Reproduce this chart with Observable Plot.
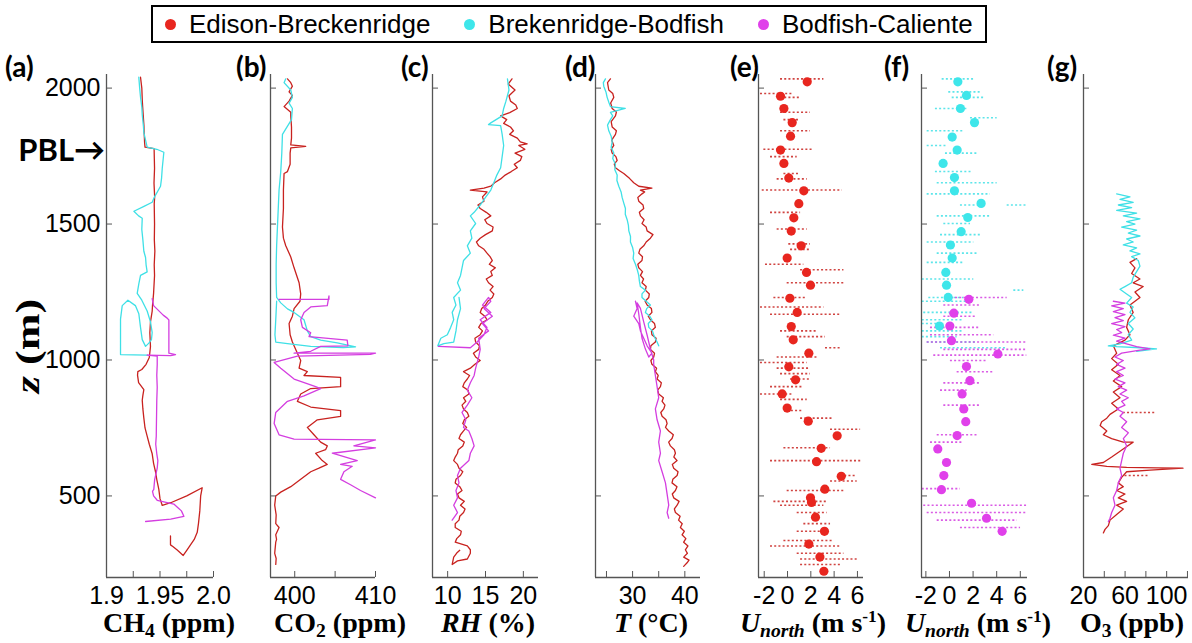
<!DOCTYPE html>
<html><head><meta charset="utf-8">
<script src="https://cdn.jsdelivr.net/npm/d3@7"></script>
<script src="https://cdn.jsdelivr.net/npm/@observablehq/plot@0.6"></script>
<style>
body{margin:0;background:#fff;}
#wrap{position:relative;width:1192px;height:643px;overflow:hidden;background:#fff;}
.letter{position:absolute;top:50px;font-family:Lato,"Open Sans",sans-serif;font-weight:bold;font-size:28px;line-height:32px;color:#000;}
.title{position:absolute;top:611px;font-family:"Liberation Serif","Times New Roman",serif;font-weight:bold;font-size:28px;line-height:24px;white-space:nowrap;transform:translateX(-50%);color:#000;}
.title sub{font-size:70%;vertical-align:-0.28em;line-height:0;}
.title sup{font-size:62%;vertical-align:0.55em;line-height:0;}
#legend{position:absolute;left:151px;top:5px;height:34px;border:2px solid #000;display:flex;align-items:center;padding:0 12px 0 12px;font-family:"Liberation Sans",Arial,sans-serif;font-size:26px;line-height:30px;color:#000;white-space:nowrap;box-sizing:content-box;}
#legend .it{display:flex;align-items:center;margin-right:34px;}
#legend .it:last-child{margin-right:0;}
#legend .dot{width:11px;height:11px;border-radius:50%;margin-right:13px;}
#zlab{position:absolute;left:28px;top:346px;font-family:"Liberation Serif","Times New Roman",serif;font-weight:bold;font-size:34px;line-height:36px;white-space:nowrap;transform:translate(-50%,-50%) rotate(-90deg) scaleX(1.3);}
#pbl{position:absolute;right:1087px;top:130px;font-family:Lato,"Open Sans",sans-serif;font-weight:bold;font-size:31px;line-height:38px;white-space:nowrap;}
</style></head>
<body><div id="wrap"></div>
<script>
// ---------- shared altitude axis ----------
const Z_DOMAIN = [200, 2050];
const Z_TICKS = [500, 1000, 1500, 2000];

// ---------- series names ----------
const SERIES = ["Edison-Breckenridge", "Brekenridge-Bodfish", "Bodfish-Caliente"];

// ---------- (a) CH4 (ppm) : [value, z] ----------
const CH4_DOMAIN = [1.9, 2.0];
const CH4_TICKS = [1.9, 1.925, 1.95, 1.975, 2.0];
const CH4_LABEL_VALUES = [1.9, 1.95, 2.0];
const CH4_LABEL_TEXT = ["1.9", "1.95", "2.0"];
const CH4_EB = [[1.9318,2040],[1.9330,2000],[1.9335,1950],[1.9343,1902],[1.9350,1860],[1.9352,1836],[1.9356,1800],[1.9360,1783],[1.9445,1777],[1.9447,1740],[1.9449,1705],[1.9444,1650],[1.9450,1600],[1.9446,1574],[1.9449,1500],[1.9447,1442],[1.9452,1400],[1.9446,1350],[1.9449,1311],[1.9442,1260],[1.9440,1245],[1.9430,1200],[1.9427,1180],[1.9411,1140],[1.9405,1100],[1.9411,1049],[1.9400,1009],[1.9370,984],[1.9330,965],[1.9293,957],[1.9290,944],[1.9300,917],[1.9349,891],[1.9340,870],[1.9334,852],[1.9340,820],[1.9349,786],[1.9360,750],[1.9380,720],[1.9400,690],[1.9427,655],[1.9440,620],[1.9458,589],[1.9470,560],[1.9489,524],[1.9500,490],[1.9521,465],[1.9600,475],[1.9750,500],[1.9894,530],[1.9880,500],[1.9872,445],[1.9860,400],[1.9848,366],[1.9820,340],[1.9785,320],[1.9750,300],[1.9717,281],[1.9661,301],[1.9620,314],[1.9598,320],[1.9598,353]];
const CH4_BB = [[1.9302,2040],[1.9310,2000],[1.9318,1967],[1.9330,1930],[1.9334,1902],[1.9345,1860],[1.9349,1836],[1.9380,1783],[1.9470,1775],[1.9536,1764],[1.9530,1740],[1.9521,1705],[1.9515,1670],[1.9505,1639],[1.9449,1600],[1.9427,1580],[1.9350,1565],[1.9256,1547],[1.9300,1530],[1.9334,1521],[1.9330,1480],[1.9340,1442],[1.9349,1400],[1.9365,1377],[1.9370,1350],[1.9380,1324],[1.9318,1311],[1.9302,1280],[1.9287,1245],[1.9330,1220],[1.9380,1180],[1.9411,1140],[1.9427,1101],[1.9420,1075],[1.9396,1062],[1.9365,1050],[1.9334,1075],[1.9318,1120],[1.9302,1170],[1.9270,1200],[1.9200,1220],[1.9147,1200],[1.9131,1150],[1.9131,1100],[1.9131,1050],[1.9131,1020],[1.9380,1018]];
const CH4_BC = [[1.9427,1226],[1.9440,1200],[1.9530,1165],[1.9567,1154],[1.9583,1147],[1.9583,1100],[1.9583,1050],[1.9583,1025],[1.9645,1020],[1.9600,1016],[1.9380,1018],[1.9474,1014],[1.9474,983],[1.9470,944],[1.9474,900],[1.9470,852],[1.9468,800],[1.9466,750],[1.9465,720],[1.9460,690],[1.9470,655],[1.9480,630],[1.9474,602],[1.9450,560],[1.9442,524],[1.9430,517],[1.9440,500],[1.9474,484],[1.9629,470],[1.9700,445],[1.9723,425],[1.9600,415],[1.9365,406]];

// ---------- (b) CO2 (ppm) ----------
const CO2_DOMAIN = [397, 410];
const CO2_TICKS = [400, 405, 410];
const CO2_LABEL_VALUES = [400, 410];
const CO2_LABEL_TEXT = ["400", "410"];
const CO2_EB = [[399.10,2034],[399.51,2020],[399.71,2007],[399.30,1986],[399.71,1973],[399.30,1952],[398.68,1932],[399.51,1911],[399.51,1898],[399.60,1857],[399.60,1816],[399.51,1791],[401.36,1786],[399.51,1780],[399.43,1761],[399.43,1720],[399.10,1693],[398.68,1686],[398.60,1625],[398.60,1557],[398.48,1489],[398.60,1448],[398.89,1420],[399.51,1379],[399.92,1339],[400.54,1284],[400.74,1243],[400.65,1216],[399.92,1189],[399.71,1161],[399.30,1134],[399.43,1093],[399.71,1066],[400.33,1025],[400.74,998],[400.54,970],[401.56,957],[401.15,943],[405.68,936],[405.68,902],[401.98,895],[400.74,875],[400.33,848],[401.98,827],[405.68,814],[405.68,793],[402.80,780],[401.56,752],[402.38,725],[403.21,698],[404.03,684],[403.82,670],[402.59,657],[403.41,630],[404.03,616],[403.00,602],[401.98,589],[400.74,561],[399.51,534],[398.27,514],[397.65,500],[397.52,466],[397.70,430],[397.65,398],[398.06,384],[397.65,357],[397.75,340],[397.65,330],[397.52,289],[397.70,270],[397.65,248]];
const CO2_BB = [[398.89,2034],[398.68,2020],[399.51,1993],[399.71,1966],[399.30,1945],[399.71,1925],[399.60,1884],[398.48,1830],[398.40,1761],[398.27,1693],[398.06,1625],[397.96,1557],[397.86,1489],[397.76,1420],[397.70,1352],[397.70,1284],[397.76,1230],[398.27,1210],[399.10,1188],[399.92,1175],[401.15,1148],[401.56,1107],[401.98,1086],[403.21,1073],[405.27,1063],[407.53,1048],[406.00,1046],[401.98,1050],[399.10,1060],[397.65,1066],[397.55,1093],[397.65,1148],[397.76,1216]];
const CO2_BC = [[398.06,1223],[404.24,1223],[404.24,1236],[404.03,1200],[401.98,1195],[401.15,1175],[400.74,1148],[400.95,1120],[401.98,1100],[401.77,1086],[406.50,1073],[406.58,1052],[403.21,1050],[401.98,1032],[399.92,1025],[410.00,1025],[409.38,1021],[400.33,1014],[397.45,991],[398.27,970],[399.92,930],[402.59,902],[403.21,895],[401.15,868],[399.10,848],[397.65,807],[397.45,766],[398.06,725],[399.92,709],[410.00,706],[407.32,684],[410.00,677],[404.65,657],[407.74,630],[405.68,616],[407.12,609],[406.09,589],[405.68,561],[406.91,541],[408.15,520],[410.00,493]];

// ---------- (c) RH (%) ----------
const RH_DOMAIN = [8, 22];
const RH_TICKS = [10, 15, 20];
const RH_LABEL_VALUES = [10, 15, 20];
const RH_LABEL_TEXT = ["10", "15", "20"];
const RH_EB = [[18.5,2034],[18.0,2015],[18.9,1993],[18.1,1972],[18.3,1952],[19.0,1938],[19.2,1925],[18.2,1910],[17.0,1898],[17.8,1884],[17.4,1870],[18.3,1857],[18.7,1843],[18.2,1830],[19.2,1816],[19.6,1802],[20.5,1795],[19.4,1789],[20.2,1775],[18.9,1761],[19.8,1748],[19.6,1734],[18.8,1720],[19.2,1707],[18.4,1693],[17.6,1680],[17.0,1666],[16.2,1652],[15.7,1639],[14.8,1632],[13.0,1625],[15.2,1618],[14.6,1600],[14.8,1584],[14.0,1570],[14.3,1557],[15.1,1543],[15.7,1530],[14.9,1516],[15.2,1502],[16.0,1489],[15.9,1475],[15.0,1461],[14.3,1448],[13.8,1434],[14.1,1420],[14.8,1407],[15.2,1393],[15.6,1380],[15.9,1366],[15.5,1352],[16.3,1339],[15.7,1325],[15.9,1311],[15.1,1298],[15.4,1284],[16.0,1270],[15.6,1257],[16.1,1243],[15.9,1230],[15.3,1216],[15.0,1202],[14.5,1189],[14.3,1175],[14.9,1161],[15.2,1148],[14.4,1134],[14.1,1120],[14.6,1107],[14.3,1093],[13.6,1080],[13.7,1066],[14.2,1052],[14.1,1039],[13.4,1025],[13.7,1011],[14.3,998],[13.6,984],[13.0,970],[12.1,957],[12.9,943],[12.6,930],[12.2,916],[12.0,902],[12.7,889],[12.8,875],[12.1,861],[12.4,848],[11.9,834],[12.1,820],[12.6,807],[12.8,793],[12.2,780],[12.0,766],[12.5,752],[12.1,739],[11.7,725],[11.5,711],[12.2,698],[12.0,684],[11.4,670],[11.3,657],[11.0,643],[10.8,630],[11.3,616],[11.5,602],[12.0,589],[11.7,575],[11.1,561],[11.0,548],[11.6,534],[11.9,520],[11.3,507],[11.5,493],[12.2,480],[11.7,466],[12.3,452],[12.1,439],[11.6,425],[11.5,411],[11.0,398],[11.0,384],[11.8,370],[11.7,357],[11.2,343],[11.0,330],[12.6,316],[13.0,302],[13.0,289],[12.6,268],[11.3,261],[10.6,248],[10.8,275],[11.2,290],[11.6,300]];
const RH_BB = [[17.9,2034],[18.1,1993],[17.7,1952],[17.4,1925],[17.2,1898],[15.7,1872],[15.4,1866],[17.0,1862],[17.2,1830],[17.4,1789],[17.2,1748],[17.0,1707],[16.5,1680],[16.1,1652],[15.7,1625],[15.0,1598],[14.3,1570],[13.5,1543],[13.0,1530],[13.7,1502],[13.0,1475],[13.2,1448],[12.6,1420],[13.0,1393],[12.1,1366],[11.9,1339],[11.7,1311],[11.3,1284],[11.7,1257],[10.8,1230],[11.1,1202],[10.6,1175],[10.8,1148],[10.4,1120],[9.96,1093],[9.1,1080],[8.7,1052],[9.5,1060],[10.8,1066],[11.1,1107],[11.3,1148],[11.7,1189],[11.5,1230]];
const RH_BC = [[8.8,1050],[13.0,1045],[13.9,1066],[14.8,1093],[15.2,1120],[14.3,1148],[15.7,1175],[14.6,1202],[15.4,1230],[15.7,1216],[14.8,1189],[15.9,1161],[14.6,1134],[15.4,1107],[14.1,1080],[14.3,1039],[14.1,1011],[13.7,970],[13.5,943],[13.0,916],[12.6,889],[13.2,861],[12.6,834],[11.9,807],[12.4,780],[12.1,752],[12.8,739],[13.2,711],[13.5,684],[13.0,657],[12.8,630],[11.7,602],[11.3,575],[11.5,548],[11.1,520],[11.3,493],[10.8,466],[11.3,439],[10.6,411]];

// ---------- (d) T (°C) ----------
const T_DOMAIN = [22.9, 43];
const T_TICKS = [25, 30, 35, 40];
const T_LABEL_VALUES = [30, 40];
const T_LABEL_TEXT = ["30", "40"];
const T_EB = [[25.76,2034],[25.2,2020],[25.44,1993],[26.2,1980],[26.40,1966],[25.8,1945],[26.09,1925],[26.9,1912],[26.72,1898],[25.9,1877],[26.09,1857],[26.9,1843],[26.72,1830],[26.0,1809],[26.40,1789],[25.9,1775],[26.09,1761],[26.8,1748],[27.05,1734],[26.5,1720],[26.72,1707],[27.5,1696],[28.31,1686],[29.4,1668],[30.22,1652],[31.18,1639],[33.7,1632],[31.5,1625],[32.3,1618],[31.8,1611],[31.0,1598],[31.18,1584],[32.0,1570],[32.13,1557],[31.3,1543],[31.50,1530],[32.2,1516],[31.8,1502],[32.6,1489],[32.78,1475],[33.9,1461],[33.41,1448],[32.6,1434],[32.13,1420],[31.4,1407],[31.18,1393],[31.9,1380],[31.8,1366],[31.0,1352],[31.18,1339],[31.9,1325],[31.50,1311],[32.1,1298],[31.8,1284],[32.6,1270],[32.45,1257],[33.2,1243],[33.1,1230],[32.4,1216],[32.78,1202],[33.6,1189],[33.7,1175],[33.0,1161],[33.41,1148],[34.2,1134],[34.36,1120],[33.6,1107],[33.7,1093],[34.5,1080],[34.36,1066],[33.5,1052],[33.41,1039],[34.2,1025],[34.04,1011],[33.5,998],[33.7,984],[34.6,970],[34.36,957],[34.9,943],[34.69,930],[35.5,916],[35.33,902],[34.8,889],[35.0,875],[35.9,861],[35.65,848],[36.2,834],[35.96,820],[35.4,807],[35.65,793],[36.4,780],[36.61,766],[36.3,752],[36.92,739],[37.8,725],[37.55,711],[36.9,698],[37.24,684],[38.0,670],[38.2,657],[37.9,643],[38.52,630],[37.6,616],[37.87,602],[38.7,589],[38.52,575],[37.7,561],[37.55,548],[38.5,534],[38.2,520],[37.6,507],[37.87,493],[38.9,480],[38.52,466],[38.0,452],[38.2,439],[39.1,425],[38.8,411],[39.5,398],[39.15,384],[39.9,370],[39.47,357],[40.2,343],[39.78,330],[40.6,316],[40.1,302],[40.5,289],[39.78,275],[40.8,264],[40.43,254],[39.78,241]];
const T_BB = [[24.81,2034],[24.4,2020],[24.48,2007],[24.9,1986],[25.13,1966],[25.5,1945],[25.76,1932],[28.6,1925],[25.76,1911],[26.2,1898],[25.76,1884],[25.2,1864],[25.44,1843],[25.9,1823],[26.09,1802],[25.9,1782],[26.40,1761],[26.2,1741],[26.72,1720],[26.6,1700],[27.05,1680],[27.0,1660],[27.36,1639],[27.8,1618],[28.0,1598],[28.3,1578],[28.63,1557],[28.6,1536],[28.96,1516],[29.2,1495],[29.28,1475],[29.6,1454],[29.59,1434],[30.0,1414],[30.22,1393],[30.1,1373],[30.55,1352],[30.9,1332],[31.18,1311],[31.3,1290],[31.50,1270],[32.45,1257],[31.8,1243],[31.8,1230],[32.6,1216],[33.41,1202],[32.7,1189],[32.45,1175],[33.3,1161],[33.7,1148],[33.0,1134],[33.1,1120],[33.8,1107],[34.04,1093],[34.3,1080],[34.69,1066],[35.0,1052]];
const T_BC = [[30.55,1216],[30.87,1189],[30.22,1161],[31.18,1134],[31.50,1107],[32.13,1080],[32.78,1052],[33.7,1025],[33.1,1011],[32.45,1040],[31.8,1080],[31.5,1120],[31.18,1170],[30.87,1210],[31.5,1190],[32.13,1140],[32.8,1090],[33.41,1040],[34.04,1000],[34.04,984],[34.36,943],[34.69,902],[35.0,861],[34.36,820],[34.69,780],[35.33,739],[35.0,698],[35.33,657],[35.0,630],[35.65,589],[36.29,548],[36.61,507],[36.92,466],[36.61,439],[36.92,418]];

// ---------- (e) U_north (m/s), Edison-Breckenridge ----------
const U_DOMAIN_E = [-2.49, 6.52];
const U_DOMAIN_F = [-2.37, 6.61];
const U_TICKS = [-2, 0, 2, 4, 6];
const U_LABEL_VALUES = [-2, 0, 2, 4, 6];
const U_LABEL_TEXT = ["-2", "0", "2", "4", "6"];
// mean points [value, z]
const UE_EB_MEAN = [[1.69,2023],[-0.60,1970],[-0.31,1925],[0.40,1873],[0.26,1823],[-0.60,1772],[-0.31,1723],[0.11,1669],[1.40,1622],[0.97,1575],[0.54,1523],[0.32,1474],[1.17,1420],[-0.03,1375],[1.63,1322],[1.97,1275],[0.20,1227],[0.83,1175],[0.32,1123],[0.49,1074],[1.83,1025],[0.11,975],[0.69,927],[-0.46,875],[-0.03,823],[1.78,775],[4.26,721],[2.89,675],[2.49,626],[4.61,572],[3.20,525],[1.97,493],[2.06,476],[2.40,422],[3.17,370],[1.83,323],[2.78,275],[3.12,223]];
// raw samples as spans [z, from, to]
const UE_EB_RAW = [[2034,-0.60,3.12],[1980,-2.32,0.54],[1966,-0.60,1.12],[1911,-0.60,1.97],[1884,-0.31,1.12],[1843,-0.60,1.97],[1775,-2.03,2.26],[1748,-1.46,0.83],[1686,-0.31,1.12],[1666,-0.89,1.69],[1625,-2.17,4.70],[1543,-1.46,1.12],[1482,-0.89,1.69],[1427,0.11,1.97],[1407,0.26,1.97],[1352,-1.89,1.40],[1332,1.12,4.84],[1284,-0.03,4.84],[1230,-1.17,1.69],[1195,-2.32,3.12],[1168,-1.46,4.55],[1107,-0.60,2.55],[1086,-0.03,3.26],[1045,3.26,4.55],[1011,-0.89,2.55],[991,-2.32,1.69],[970,-0.89,1.97],[950,-0.60,1.97],[930,0.26,1.97],[902,-1.46,1.40],[875,-2.32,0.54],[855,-0.60,1.69],[814,-0.03,1.40],[786,1.12,3.98],[745,3.69,6.27],[677,-0.31,3.69],[630,-1.46,6.40],[575,4.55,5.98],[555,3.69,5.98],[520,-0.03,4.84],[480,-1.17,3.40],[466,-0.60,3.12],[439,0.83,3.40],[398,1.40,3.69],[370,0.83,3.69],[336,-0.31,3.98],[316,-1.46,4.55],[289,0.83,4.84],[268,1.12,5.98],[248,1.12,4.55]];

// ---------- (f) U_north, Brekenridge-Bodfish and Bodfish-Caliente ----------
const UF_BB_MEAN = [[0.71,2023],[1.44,1973],[0.93,1925],[2.12,1873],[0.23,1820],[0.65,1772],[-0.54,1723],[0.42,1671],[0.42,1622],[2.68,1576],[1.55,1524],[0.99,1472],[0.08,1423],[0.23,1375],[-0.31,1322],[-0.25,1275],[-0.11,1230],[-0.85,1125]];
const UF_BC_MEAN = [[1.64,1223],[0.37,1172],[0.03,1125],[0.17,1071],[4.10,1022],[1.44,976],[1.73,924],[1.07,875],[1.21,820],[1.38,773],[0.65,722],[-0.99,673],[-0.25,623],[-0.48,575],[-0.68,523],[1.87,473],[3.14,418],[4.46,370]];
const UF_BB_RAW = [[2034,-0.62,2.20],[1986,-0.06,2.77],[1966,0.23,2.91],[1925,-1.19,1.50],[1891,1.78,4.04],[1843,-1.89,1.21],[1789,-1.89,-0.20],[1761,-0.34,2.35],[1693,-1.19,1.92],[1652,-1.04,4.04],[1611,-1.89,3.47],[1570,0.93,2.63],[1570,4.89,6.55],[1530,-1.04,3.47],[1502,-0.48,1.78],[1461,-0.76,2.63],[1434,-1.89,2.06],[1393,-1.04,2.35],[1359,-1.89,1.21],[1298,-2.31,2.06],[1257,5.45,6.30],[1230,-1.75,1.21],[1216,-2.31,1.50],[1175,-2.18,2.06],[1148,-2.31,1.21],[1134,-2.31,-0.48],[1107,-2.31,1.21],[1086,-2.31,0.65],[1066,-1.89,2.35],[1045,-0.76,4.89]];
const UF_BC_RAW = [[1230,-0.20,4.89],[1202,-0.48,2.63],[1161,-0.48,2.35],[1120,-1.61,2.63],[1093,-1.61,3.75],[1066,-1.89,6.55],[1039,-0.48,6.55],[1018,-1.33,6.55],[998,0.08,3.19],[957,0.65,3.75],[916,-0.48,2.63],[889,-0.76,1.50],[834,-0.48,2.63],[725,-1.04,2.35],[698,-1.61,1.21],[527,-2.31,0.93],[466,-2.18,6.55],[439,-1.89,6.55],[411,-1.04,5.74],[384,0.93,6.02]];

// ---------- (g) O3 (ppb) ----------
const O3_DOMAIN = [20, 121];
const O3_TICKS = [20, 40, 60, 80, 100, 120];
const O3_LABEL_VALUES = [20, 60, 100];
const O3_LABEL_TEXT = ["20", "60", "100"];
const O3_EB = [[71.1,1373],[64.7,1359],[69.5,1339],[66.3,1318],[74.3,1298],[67.8,1284],[77.4,1270],[69.5,1250],[74.3,1230],[64.7,1202],[67.8,1175],[63.1,1148],[61.5,1120],[64.7,1093],[59.9,1073],[48.7,1052],[51.9,1025],[47.1,1005],[53.5,984],[47.1,964],[55.1,943],[48.7,923],[56.7,902],[48.7,882],[55.1,861],[47.1,841],[53.5,820],[45.5,800],[42.4,786],[37.5,773],[36.0,759],[42.4,739],[39.1,725],[47.1,711],[58.3,698],[67.8,698],[59.9,677],[55.1,664],[47.1,643],[39.1,623],[28.0,616],[42.4,609],[61.5,605],[90.2,603],[115.7,602],[84.0,595],[61.5,589],[56.7,568],[53.5,548],[58.3,534],[51.9,520],[59.9,507],[53.5,493],[61.5,480],[51.9,466],[58.3,452],[51.9,432],[45.5,411],[43.9,391],[40.7,377],[39.1,364]];
const O3_EB_RAW = [[807,58.3,90.2],[575,59.9,84.0]];
const O3_BB = [[51.9,1611],[64.7,1600],[55.1,1591],[67.8,1580],[53.5,1570],[66.3,1560],[51.9,1550],[71.1,1540],[58.3,1530],[74.3,1519],[61.5,1509],[69.5,1500],[56.7,1489],[71.1,1478],[63.1,1467],[74.3,1456],[61.5,1445],[67.8,1434],[58.3,1423],[71.1,1412],[64.7,1401],[74.3,1390],[66.3,1380],[72.7,1366],[74.3,1345],[71.1,1325],[67.8,1305],[66.3,1284],[59.9,1270],[55.1,1260],[61.5,1243],[66.3,1230],[61.5,1209],[67.8,1195],[64.7,1175],[69.5,1155],[63.1,1134],[67.8,1114],[63.1,1093],[66.3,1073],[55.1,1059],[43.9,1052],[51.9,1049],[74.3,1045],[90.2,1041],[71.1,1032]];
const O3_BC = [[48.7,1216],[59.9,1209],[47.1,1199],[58.3,1189],[48.7,1178],[59.9,1167],[50.3,1156],[58.3,1145],[47.1,1134],[59.9,1123],[51.9,1112],[56.7,1101],[48.7,1091],[59.9,1080],[51.9,1069],[61.5,1059],[71.1,1049],[84.0,1041],[74.3,1036],[56.7,1025],[50.3,1011],[58.3,998],[51.9,984],[59.9,970],[51.9,957],[58.3,943],[50.3,930],[59.9,916],[53.5,902],[61.5,889],[55.1,875],[63.1,861],[56.7,848],[59.9,834],[51.9,820],[58.3,807],[55.1,793],[61.5,773],[56.7,752],[63.1,732],[58.3,711],[61.5,684],[58.3,657],[56.7,630],[55.1,602],[56.7,575],[53.5,548],[51.9,520],[48.7,493],[50.3,466],[47.1,439],[45.5,418],[43.9,405]];

// ---------- styling ----------
const LINE_COLORS = ["#c8221f", "#3fe0e6", "#d43ee0"];
const DOT_COLORS = ["#e8261f", "#3ee6ea", "#e040ea"];
const AXIS = "#555";
const wrap = document.getElementById("wrap");

const lineMark = (data, i) => Plot.line(data, {x: d => d[0], y: d => d[1], stroke: LINE_COLORS[i], strokeWidth: 1.3});
const rawMark = (data, i) => Plot.ruleY(data, {y: d => d[0], x1: d => d[1], x2: d => d[2], stroke: LINE_COLORS[i], strokeWidth: 1.6, strokeDasharray: "2 2.2", strokeOpacity: 0.85});
const meanMark = (data, i) => Plot.dot(data, {x: d => d[0], y: d => d[1], r: 4.6, fill: DOT_COLORS[i], stroke: "none"});

function panel(cfg) {
  const {left, right, domain, ticks, labelValues, labelText, marks, yLabels} = cfg;
  const mL = yLabels ? left : 25, mR = 25;
  const svg = Plot.plot({
    width: right - left + mL + mR, height: 643,
    marginLeft: mL, marginRight: mR, marginTop: 74, marginBottom: 66,
    x: {domain}, y: {domain: Z_DOMAIN},
    style: {overflow: "visible", background: "transparent", fontFamily: "'Liberation Sans', Arial, sans-serif", fontSize: "25px", color: "#000"},
    marks: [
      ...marks,
      Plot.ruleX([domain[0]], {stroke: AXIS, strokeWidth: 1.3}),
      Plot.ruleY([Z_DOMAIN[0]], {stroke: AXIS, strokeWidth: 1.3}),
      // inward tick marks only (no text)
      Plot.axisX({ticks, tickSize: -6, stroke: AXIS, fill: "none", label: null}),
      Plot.axisY({ticks: Z_TICKS, tickSize: -6, stroke: AXIS, fill: "none", label: null}),
      // tick labels only
      Plot.axisX({ticks: labelValues, tickSize: 0, tickPadding: 9, tickFormat: d => labelText[labelValues.indexOf(d)], fontSize: 25, fill: "#000", label: null}),
      yLabels ? Plot.axisY({ticks: Z_TICKS, tickSize: 0, tickPadding: 6, tickFormat: d => String(d), fontSize: 25, fill: "#000", label: null}) : null
    ]
  });
  svg.style.position = "absolute";
  svg.style.left = (left - mL) + "px";
  svg.style.top = "0px";
  wrap.appendChild(svg);
}

panel({left: 106, right: 213, domain: CH4_DOMAIN, ticks: CH4_TICKS, labelValues: CH4_LABEL_VALUES, labelText: CH4_LABEL_TEXT, yLabels: true,
  marks: [lineMark(CH4_EB, 0), lineMark(CH4_BB, 1), lineMark(CH4_BC, 2)]});
panel({left: 270, right: 375, domain: CO2_DOMAIN, ticks: CO2_TICKS, labelValues: CO2_LABEL_VALUES, labelText: CO2_LABEL_TEXT,
  marks: [lineMark(CO2_EB, 0), lineMark(CO2_BB, 1), lineMark(CO2_BC, 2)]});
panel({left: 432, right: 538, domain: RH_DOMAIN, ticks: RH_TICKS, labelValues: RH_LABEL_VALUES, labelText: RH_LABEL_TEXT,
  marks: [lineMark(RH_EB, 0), lineMark(RH_BB, 1), lineMark(RH_BC, 2)]});
panel({left: 595, right: 700, domain: T_DOMAIN, ticks: T_TICKS, labelValues: T_LABEL_VALUES, labelText: T_LABEL_TEXT,
  marks: [lineMark(T_EB, 0), lineMark(T_BB, 1), lineMark(T_BC, 2)]});
panel({left: 758, right: 863, domain: U_DOMAIN_E, ticks: U_TICKS, labelValues: U_LABEL_VALUES, labelText: U_LABEL_TEXT,
  marks: [rawMark(UE_EB_RAW, 0), meanMark(UE_EB_MEAN, 0)]});
panel({left: 921, right: 1027, domain: U_DOMAIN_F, ticks: U_TICKS, labelValues: U_LABEL_VALUES, labelText: U_LABEL_TEXT,
  marks: [rawMark(UF_BB_RAW, 1), rawMark(UF_BC_RAW, 2), meanMark(UF_BB_MEAN, 1), meanMark(UF_BC_MEAN, 2)]});
panel({left: 1083, right: 1188, domain: O3_DOMAIN, ticks: O3_TICKS, labelValues: O3_LABEL_VALUES, labelText: O3_LABEL_TEXT,
  marks: [lineMark(O3_EB, 0), rawMark(O3_EB_RAW, 0), lineMark(O3_BB, 1), lineMark(O3_BC, 2)]});

// ---------- text overlays ----------
const LETTERS = ["(a)", "(b)", "(c)", "(d)", "(e)", "(f)", "(g)"];
const LETTER_LEFT = [5, 236, 401, 565, 730, 884, 1047];
LETTERS.forEach((t, i) => {
  const d = document.createElement("div");
  d.className = "letter"; d.textContent = t; d.style.left = LETTER_LEFT[i] + "px";
  wrap.appendChild(d);
});
const TITLES = [
  'CH<sub>4</sub> (ppm)', 'CO<sub>2</sub> (ppm)', '<i>RH</i> (%)', '<i>T</i> (°C)',
  '<i>U<sub>north</sub></i> (m s<sup>-1</sup>)', '<i>U<sub>north</sub></i> (m s<sup>-1</sup>)', 'O<sub>3</sub> (ppb)'
];
const TITLE_CENTER = [169, 340, 488, 651, 813, 978, 1132];
TITLES.forEach((t, i) => {
  const d = document.createElement("div");
  d.className = "title"; d.innerHTML = t; d.style.left = TITLE_CENTER[i] + "px";
  wrap.appendChild(d);
});
const z = document.createElement("div");
z.id = "zlab"; z.innerHTML = "<i>z</i> (m)"; wrap.appendChild(z);
const pbl = document.createElement("div");
pbl.id = "pbl"; pbl.textContent = "PBL→"; wrap.appendChild(pbl);

const lg = document.createElement("div");
lg.id = "legend";
SERIES.forEach((s, i) => {
  const it = document.createElement("div"); it.className = "it";
  const dot = document.createElement("span"); dot.className = "dot"; dot.style.background = DOT_COLORS[i];
  const tx = document.createElement("span"); tx.textContent = s;
  it.appendChild(dot); it.appendChild(tx); lg.appendChild(it);
});
wrap.appendChild(lg);
</script>
</body></html>
